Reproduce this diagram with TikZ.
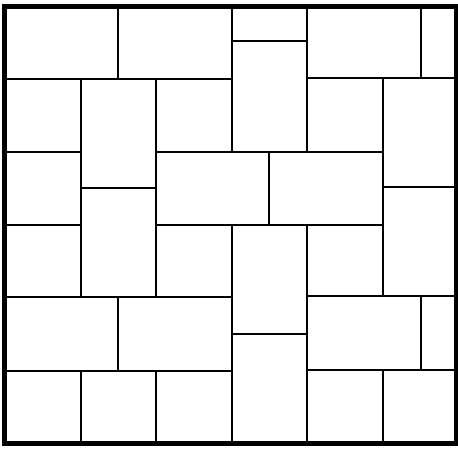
\documentclass[tikz,border=0pt]{standalone}
\begin{document}
\begin{tikzpicture}[x=1pt,y=-1pt,
  joint/.style={line width=2.6pt,line cap=rect},
  frame/.style={line width=4.6pt,line join=miter}]
\useasboundingbox (0,0) rectangle (458,449);
% inner joints: vertical
\draw[joint] (118,7) -- (118,79);
\draw[joint] (118,297) -- (118,371);
\draw[joint] (232,7) -- (232,152);
\draw[joint] (232,225) -- (232,444);
\draw[joint] (307,7) -- (307,152);
\draw[joint] (307,225) -- (307,444);
\draw[joint] (421,7) -- (421,78);
\draw[joint] (421,296) -- (421,370);
\draw[joint] (81,79) -- (81,297);
\draw[joint] (81,371) -- (81,444);
\draw[joint] (156,79) -- (156,297);
\draw[joint] (156,371) -- (156,444);
\draw[joint] (383,78) -- (383,296);
\draw[joint] (383,370) -- (383,444);
\draw[joint] (269,152) -- (269,225);
% inner joints: horizontal
\draw[joint] (232,41) -- (307,41);
\draw[joint] (5,79) -- (232,79);
\draw[joint] (307,78) -- (456,78);
\draw[joint] (5,152) -- (81,152);
\draw[joint] (156,152) -- (383,152);
\draw[joint] (81,188) -- (156,188);
\draw[joint] (383,187) -- (456,187);
\draw[joint] (5,225) -- (81,225);
\draw[joint] (156,225) -- (383,225);
\draw[joint] (5,297) -- (232,297);
\draw[joint] (307,296) -- (456,296);
\draw[joint] (232,334) -- (307,334);
\draw[joint] (5,371) -- (232,371);
\draw[joint] (307,370) -- (456,370);
% outer frame
\draw[frame] (4.5,6.5) rectangle (456,443.5);
\end{tikzpicture}
\end{document}
